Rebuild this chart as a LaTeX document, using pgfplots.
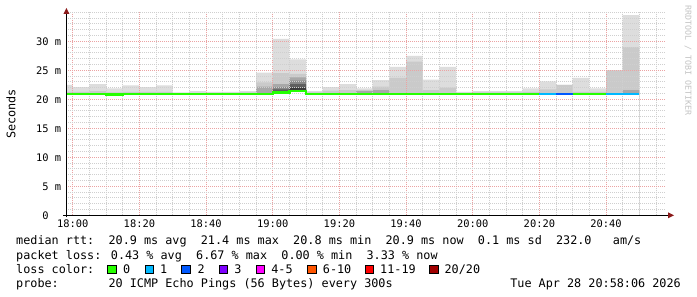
\documentclass[border=0pt]{standalone}
\usepackage{fontspec}
\usepackage{pgfplots}
\usepackage{pgfplotstable}
\pgfplotsset{compat=1.18}
\usetikzlibrary{arrows.meta}
\setmainfont{DejaVu Sans Mono}
\newcommand\legfont{\fontsize{11.8}{13}\selectfont}
\newcommand\axfont{\fontsize{10.4}{12}\selectfont}
\newcommand\wmfont{\fontsize{8.3}{10}\selectfont}
\definecolor{smokeA}{HTML}{DDDDDD}
\definecolor{smokeB}{HTML}{CACACA}
\definecolor{smokeC}{HTML}{A8A8A8}
\definecolor{smokeD}{HTML}{888888}
\definecolor{smokeE}{HTML}{5E5E5E}
\definecolor{smokeF}{HTML}{3A3A3A}
\definecolor{loss0}{HTML}{26FF00}
\definecolor{loss1}{HTML}{00B8FF}
\definecolor{loss2}{HTML}{0059FF}
\definecolor{loss3}{HTML}{7E00FF}
\definecolor{loss4}{HTML}{FF00FF}
\definecolor{loss6}{HTML}{FF5500}
\definecolor{loss11}{HTML}{FF0000}
\definecolor{loss20}{HTML}{A10000}
\definecolor{mgrid}{HTML}{EBA3A3}
\definecolor{mingrid}{HTML}{CFCFCF}
\definecolor{arrowred}{HTML}{8B1A1A}
\definecolor{wmgray}{HTML}{C4C4C4}

\pgfplotstableread{
t     max   l2    l3    l4    l5    l6    lo
-1.9  22.5  21.3  0     0     0     0     20.75
0     22.1  21.3  0     0     0     0     20.75
5     22.6  21.4  0     0     0     0     20.75
10    21.9  21.2  0     0     0     0     20.7
15    22.4  21.3  0     0     0     0     20.75
20    22.1  21.3  0     0     0     0     20.75
25    22.4  21.3  0     0     0     0     20.75
30    21.2  21.0  0     0     0     0     20.75
35    21.4  21.1  0     0     0     0     20.75
40    21.3  21.1  0     0     0     0     20.75
45    21.3  21.1  0     0     0     0     20.75
50    21.4  21.2  0     0     0     0     20.75
55    24.6  22.9  22.2  0     0     0     20.75
60    30.4  24.5  22.6  22.1  21.7  21.4  21.0
65    26.9  24.4  23.8  23.2  22.6  22.0  21.25
70    21.4  21.2  0     0     0     0     20.75
75    22.1  21.5  0     0     0     0     20.75
80    22.6  21.6  0     0     0     0     20.75
85    21.9  21.6  21.4  0     0     0     20.75
90    23.3  22.2  21.6  0     0     0     20.75
95    25.6  23.7  0     0     0     0     20.75
100   27.5  26.5  0     0     0     0     20.75
105   23.4  21.6  0     0     0     0     20.75
110   25.6  22.0  0     0     0     0     20.75
115   21.3  21.1  0     0     0     0     20.75
120   21.4  21.2  0     0     0     0     20.75
125   21.4  21.2  0     0     0     0     20.75
130   21.4  21.2  0     0     0     0     20.75
135   21.9  21.3  0     0     0     0     20.75
140   23.1  21.7  0     0     0     0     20.75
145   22.5  22.5  0     0     0     0     20.75
150   23.7  21.3  0     0     0     0     20.75
155   21.9  21.3  0     0     0     0     20.75
160   25.0  25.0  0     0     0     0     20.75
165   34.5  29.0  21.6  0     0     0     20.75
170   34.5  29.0  21.6  0     0     0     20.75
}\smoke

\pgfplotsset{
  rrd/.style={
    scale only axis, width=600pt, height=203pt,
    at={(66.4pt,81.7pt)}, anchor=south west,
    xmin=-1.9, xmax=178.1, ymin=0, ymax=35,
  },
}

\begin{document}
\begin{tikzpicture}
\useasboundingbox (0,0) rectangle (697pt,297pt);
\fill[white] (0,0) rectangle (697pt,297pt);
\begin{axis}[rrd,
  axis on top,
  axis line style={draw=none},
  tick style={draw=none},
  xtick={0,20,40,60,80,100,120,140,160},
  xticklabels={18:00,18:20,18:40,19:00,19:20,19:40,20:00,20:20,20:40},
  minor xtick={5,10,15,25,30,35,45,50,55,65,70,75,85,90,95,105,110,115,125,130,135,145,150,155,165,170,175},
  ytick={0,5,10,15,20,25,30},
  yticklabels={0\hphantom{~m},5 m,10 m,15 m,20 m,25 m,30 m},
  minor ytick={1,2,3,4,6,7,8,9,11,12,13,14,16,17,18,19,21,22,23,24,26,27,28,29,31,32,33,34,35},
  grid=both,
  major grid style={draw=mgrid, line width=0.9pt, dash pattern=on 1pt off 1pt},
  minor grid style={draw=mingrid, line width=0.9pt, dash pattern=on 1pt off 1pt},
  tick label style={font=\axfont, text=black},
  xticklabel style={inner sep=0pt, anchor=north, yshift=-4.5pt},
  yticklabel style={inner sep=0pt, anchor=east, xshift=-5pt},
]
\addplot[const plot, fill=smokeA, draw=none] table[x=t,y=max] {\smoke} \closedcycle;
\addplot[const plot, fill=smokeB, draw=none] table[x=t,y=l2] {\smoke} \closedcycle;
\addplot[const plot, fill=smokeC, draw=none] table[x=t,y=l3] {\smoke} \closedcycle;
\addplot[const plot, fill=smokeD, draw=none] table[x=t,y=l4] {\smoke} \closedcycle;
\addplot[const plot, fill=smokeE, draw=none] table[x=t,y=l5] {\smoke} \closedcycle;
\addplot[const plot, fill=smokeF, draw=none] table[x=t,y=l6] {\smoke} \closedcycle;
\addplot[const plot, fill=white, draw=none] table[x=t,y=lo] {\smoke} \closedcycle;
\end{axis}
\begin{axis}[rrd, hide axis]
\addplot[const plot, draw=loss0, line width=2.4pt] coordinates {(-1.9,20.9) (10,20.8) (15,20.9) (60,21.15) (65,21.4) (70,20.9) (140,20.9)};
\addplot[const plot, draw=loss1, line width=2.4pt] coordinates {(140,20.9) (145,20.9)};
\addplot[const plot, draw=loss2, line width=2.4pt] coordinates {(145,20.9) (150,20.9)};
\addplot[const plot, draw=loss0, line width=2.4pt] coordinates {(150,20.9) (160,20.9)};
\addplot[const plot, draw=loss1, line width=2.4pt] coordinates {(160,20.9) (170,20.9)};
\end{axis}
% axis lines with arrows
\draw[black, line width=0.9pt] (63pt,81.7pt) -- (668pt,81.7pt);
\fill[arrowred] (668pt,84.7pt) -- (674pt,81.7pt) -- (668pt,78.7pt) -- cycle;
\draw[black, line width=0.9pt] (66.4pt,79.5pt) -- (66.4pt,284pt);
\fill[arrowred] (63.4pt,283pt) -- (66.4pt,289pt) -- (69.4pt,283pt) -- cycle;
% labels
\node[rotate=90, inner sep=0pt, font=\legfont] at (11pt,183pt) {Seconds};
\node[rotate=-90, anchor=west, inner sep=0pt, font=\wmfont, text=wmgray] at (688pt,292pt) {RRDTOOL / TOBI OETIKER};
% legend
\begin{scope}[every node/.style={inner sep=0pt, font=\legfont}]
\node[anchor=base west] at (16pt,52pt) {median rtt:~~20.9 ms avg~~21.4 ms max~~20.8 ms min~~20.9 ms now~~0.1 ms sd~~232.0~~~am/s};
\node[anchor=base west] at (16pt,37.5pt) {packet loss: 0.43 \% avg~~6.67 \% max~~0.00 \% min~~3.33 \% now};
\node[anchor=base west] at (16pt,23.5pt) {loss color:};
\filldraw[fill=loss0, draw=black, line width=0.7pt] (107.6pt,23.5pt) rectangle ++(8.4pt,8.4pt);
\node[anchor=base west] at (123pt,23.5pt) {0};
\filldraw[fill=loss1, draw=black, line width=0.7pt] (144.9pt,23.5pt) rectangle ++(8.4pt,8.4pt);
\node[anchor=base west] at (160pt,23.5pt) {1};
\filldraw[fill=loss2, draw=black, line width=0.7pt] (181.8pt,23.5pt) rectangle ++(8.4pt,8.4pt);
\node[anchor=base west] at (197.3pt,23.5pt) {2};
\filldraw[fill=loss3, draw=black, line width=0.7pt] (219.1pt,23.5pt) rectangle ++(8.4pt,8.4pt);
\node[anchor=base west] at (234.2pt,23.5pt) {3};
\filldraw[fill=loss4, draw=black, line width=0.7pt] (256.4pt,23.5pt) rectangle ++(8.4pt,8.4pt);
\node[anchor=base west] at (271.1pt,23.5pt) {4-5};
\filldraw[fill=loss6, draw=black, line width=0.7pt] (307.6pt,23.5pt) rectangle ++(8.4pt,8.4pt);
\node[anchor=base west] at (322.7pt,23.5pt) {6-10};
\filldraw[fill=loss11, draw=black, line width=0.7pt] (364.9pt,23.5pt) rectangle ++(8.4pt,8.4pt);
\node[anchor=base west] at (380pt,23.5pt) {11-19};
\filldraw[fill=loss20, draw=black, line width=0.7pt] (429.8pt,23.5pt) rectangle ++(8.4pt,8.4pt);
\node[anchor=base west] at (444.4pt,23.5pt) {20/20};
\node[anchor=base west] at (16pt,9pt) {probe:~~~~~~~20 ICMP Echo Pings (56 Bytes) every 300s};
\node[anchor=base east] at (681pt,9pt) {Tue Apr 28 20:58:06 2026};
\end{scope}
\end{tikzpicture}
\end{document}
